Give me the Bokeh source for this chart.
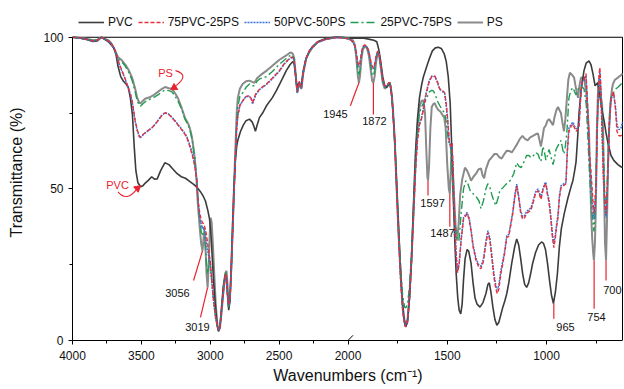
from bokeh.plotting import figure
from bokeh.models import Range1d, FixedTicker, Legend, LegendItem, Label, Arrow
from bokeh.embed import file_html
from bokeh.resources import INLINE

FONT = "Liberation Sans"

# ---------------- data: (wavenumber cm-1, transmittance %) ----------------
pvc = [
    (4000, 100), (3950, 99.8), (3900, 99.3), (3850, 98.6), (3820, 98.8), (3790, 100), (3770, 99.5),
    (3740, 98.5), (3720, 97.5), (3700, 96.5), (3685, 94.5), (3670, 90.5), (3650, 87), (3630, 85.5),
    (3610, 84.5), (3595, 83.5), (3580, 80), (3565, 74.5), (3552, 64), (3540, 56), (3525, 52),
    (3505, 50.7), (3490, 51), (3470, 52), (3450, 52.8), (3425, 54), (3405, 53.2), (3385, 53.3),
    (3360, 56), (3330, 58.6), (3300, 58), (3270, 56.5), (3240, 55), (3210, 54), (3180, 53.5),
    (3150, 52.5), (3120, 51.5), (3095, 50.5), (3070, 49), (3050, 47.5), (3035, 46), (3018, 43),
    (3005, 40), (2995, 35), (2985, 27), (2975, 19), (2962, 11), (2950, 5), (2940, 3), (2930, 4.5),
    (2918, 11), (2905, 18), (2892, 21.5), (2884, 21.5), (2876, 16), (2866, 10), (2857, 13),
    (2848, 24), (2838, 38), (2828, 50), (2818, 59), (2808, 64), (2800, 66), (2780, 69), (2760, 71),
    (2740, 72.5), (2715, 73), (2695, 72), (2682, 70.5), (2672, 69), (2660, 71), (2643, 73.5),
    (2620, 75), (2592, 77.4), (2550, 80), (2520, 82.4), (2480, 86), (2448, 89), (2420, 91),
    (2400, 92), (2390, 91), (2380, 87), (2370, 83), (2362, 84.5), (2355, 85), (2348, 84),
    (2340, 84), (2325, 89), (2305, 93), (2280, 95.5), (2260, 96.8), (2220, 98.5), (2180, 99.3),
    (2140, 99.7), (2100, 100), (2060, 100), (2020, 99.8), (2000, 99.6),
    (1980, 99.7), (1950, 99.8), (1920, 99.7), (1890, 99.3), (1870, 99), (1855, 98.5), (1845, 96),
    (1835, 92), (1825, 87), (1815, 84), (1805, 83.5), (1795, 84.5), (1788, 84.5), (1780, 81),
    (1770, 72), (1760, 60), (1750, 45), (1740, 30), (1730, 17), (1720, 8), (1710, 4.5), (1700, 6),
    (1690, 14), (1680, 27), (1670, 45), (1660, 62), (1650, 73), (1640, 80), (1630, 84), (1620, 87),
    (1605, 90), (1590, 93), (1575, 95.5), (1560, 96.5), (1545, 96.7), (1530, 96.3), (1515, 94.5),
    (1505, 92), (1495, 87), (1485, 78), (1478, 65), (1470, 48), (1462, 33), (1455, 22), (1447, 14),
    (1440, 10), (1432, 8.8), (1425, 12), (1418, 20), (1410, 27), (1400, 30), (1392, 29.5),
    (1380, 25.5), (1370, 19), (1360, 14), (1350, 12), (1335, 11), (1320, 12.5), (1305, 15.5),
    (1295, 18.5), (1288, 19), (1280, 16), (1270, 11), (1260, 7), (1250, 5), (1240, 6), (1230, 8.5),
    (1220, 11), (1210, 13), (1200, 15.5), (1190, 19), (1175, 25.5), (1160, 31), (1150, 33.5),
    (1140, 31.5), (1130, 27), (1120, 22), (1110, 18.5), (1100, 17.5), (1090, 19), (1080, 22),
    (1070, 25.4), (1055, 29), (1040, 31.5), (1025, 32.5), (1015, 32), (1005, 30), (995, 25.5),
    (985, 20), (975, 15), (965, 12.2), (955, 16), (945, 22), (935, 31), (925, 37), (910, 42),
    (892, 47), (875, 51), (867, 52.7), (858, 56), (851, 59), (843, 67), (836, 75), (825, 83),
    (811, 89), (800, 91.5), (786, 92.2), (776, 91), (766, 88), (755, 84), (742, 85), (730, 80),
    (720, 76), (710, 72.5), (700, 68.5), (690, 65), (675, 61), (660, 59.3), (640, 58), (625, 57.3),
    (617, 57),
]

pvc75_ps25 = [
    (4000, 100), (3950, 99.8), (3900, 99.4), (3850, 98.8), (3820, 99), (3790, 100), (3770, 99.5),
    (3740, 98.8), (3720, 98), (3700, 96.5), (3690, 95.5), (3670, 92.5), (3650, 90), (3632, 88),
    (3615, 86), (3596, 83.4), (3580, 81.5), (3567, 79), (3555, 75.5), (3545, 72.5), (3530, 69.5),
    (3515, 67.5), (3509, 67), (3495, 67.7), (3473, 68.5), (3450, 69.3), (3422, 70.2), (3400, 71.3),
    (3379, 72.5), (3355, 74), (3328, 75.1), (3300, 74.5), (3278, 73.5), (3250, 72), (3220, 70.2),
    (3195, 68.8), (3170, 67), (3145, 63.5), (3126, 60.3), (3110, 57), (3097, 52.7), (3090, 47),
    (3080, 43), (3069, 40.5), (3058, 39), (3050, 38.5), (3040, 37.5), (3030, 35.5), (3022, 33),
    (3012, 30), (3000, 26), (2990, 21), (2975, 13), (2962, 8), (2950, 5), (2940, 3.5), (2930, 4.5),
    (2918, 10), (2905, 16), (2892, 21), (2885, 22), (2878, 17), (2868, 12), (2858, 13), (2848, 22),
    (2837, 36), (2826, 50), (2816, 62), (2808, 70), (2800, 74), (2785, 77.5), (2765, 79),
    (2740, 80.5), (2715, 80.7), (2700, 79.5), (2693, 78.4), (2680, 80), (2670, 81.4), (2640, 83),
    (2592, 84.6), (2550, 86.5), (2498, 89), (2460, 91.5), (2426, 93), (2410, 93.5), (2395, 93),
    (2385, 90), (2375, 85), (2368, 82), (2360, 84), (2354, 85.5), (2346, 84), (2338, 83.5),
    (2325, 88.5), (2305, 93), (2280, 95.5), (2260, 96.7), (2220, 98.5), (2160, 99.4), (2100, 99.8),
    (2040, 99.8), (2000, 99.5),
    (1990, 99.3), (1975, 98.5), (1965, 97), (1958, 95), (1950, 91.5), (1945, 90.6), (1940, 91.5),
    (1932, 95), (1925, 97), (1915, 97.5), (1905, 97), (1895, 95.5), (1885, 92), (1878, 90.3),
    (1872, 90), (1866, 91), (1858, 94), (1850, 95.5), (1843, 94.5), (1835, 91), (1825, 86),
    (1815, 84), (1805, 84), (1795, 85), (1789, 85), (1783, 83), (1775, 77), (1765, 66), (1755, 50),
    (1745, 34), (1735, 20), (1725, 10), (1715, 5), (1708, 4.5), (1700, 6.5), (1690, 14), (1680, 26),
    (1670, 41), (1660, 56), (1650, 66), (1640, 71), (1630, 73), (1620, 76), (1610, 80), (1600, 83),
    (1590, 85.5), (1578, 87), (1563, 87.3), (1550, 85.5), (1538, 83), (1525, 82.5), (1513, 81.7),
    (1505, 78), (1498, 73), (1490, 66), (1482, 64), (1476, 65), (1470, 55), (1463, 40), (1455, 28),
    (1448, 22.4), (1440, 25), (1430, 33), (1418, 40), (1400, 41.8), (1390, 40), (1380, 36),
    (1370, 31), (1355, 26.4), (1340, 24), (1330, 23.7), (1318, 26), (1305, 32), (1295, 35.6),
    (1285, 33), (1275, 27), (1265, 21), (1255, 17), (1248, 15.5), (1240, 17), (1230, 22),
    (1220, 25.4), (1210, 29), (1200, 34), (1190, 34.3), (1180, 38), (1170, 41.8), (1158, 48),
    (1150, 51), (1140, 47), (1130, 42), (1120, 40), (1110, 40.5), (1100, 42), (1088, 42.5),
    (1078, 43), (1065, 46), (1055, 48.5), (1043, 49.4), (1035, 48), (1028, 46.5), (1018, 49.5),
    (1010, 51), (1003, 51.7), (995, 48), (987, 45.5), (978, 40), (970, 34), (963, 30.6), (955, 34),
    (948, 38), (942, 40.5), (935, 47), (927, 50.4), (915, 51), (902, 51.7), (895, 62), (887, 69),
    (877, 70.5), (867, 71.4), (858, 70), (851, 69), (843, 69.5), (836, 70), (828, 80), (820, 85.7),
    (811, 86), (801, 88), (796, 82), (791, 75), (784, 62), (776, 56), (768, 48), (761, 41.8),
    (756, 45), (750, 52), (745, 68), (740, 80), (735, 88), (731, 90), (727, 85), (720, 70),
    (713, 55), (706, 45), (700, 41.8), (696, 45), (690, 57), (683, 72), (675, 80), (662, 82),
    (652, 76), (645, 69), (635, 67.5), (625, 67.5), (617, 68),
]

pvc50_ps50 = [
    (4000, 100), (3950, 99.7), (3900, 99.3), (3850, 98.7), (3820, 98.9), (3790, 99.9), (3770, 99.4),
    (3740, 98.7), (3720, 97.8), (3700, 96.3), (3690, 95.2), (3670, 92.3), (3650, 89.8), (3632, 87.8),
    (3615, 85.8), (3596, 83.2), (3580, 81.2), (3567, 78.7), (3555, 75.2), (3545, 72.2), (3530, 69.2),
    (3515, 67.2), (3509, 66.8), (3495, 67.5), (3473, 68.4), (3450, 69.2), (3422, 70.2), (3400, 71.3),
    (3379, 72.6), (3355, 74.1), (3328, 75.2), (3300, 74.6), (3278, 73.6), (3250, 72.2), (3220, 70.4),
    (3195, 69), (3170, 67.3), (3145, 64), (3126, 61), (3110, 57.5), (3097, 53), (3090, 46.5),
    (3080, 42), (3069, 39), (3058, 37), (3050, 37.5), (3040, 36), (3030, 33), (3022, 30.5),
    (3012, 28), (3000, 24.5), (2990, 20), (2975, 12.5), (2962, 7.5), (2950, 4.8), (2940, 3.4),
    (2930, 4.3), (2918, 9.5), (2905, 15.5), (2892, 20.5), (2885, 21.5), (2878, 16.5), (2868, 11.5),
    (2858, 12.5), (2848, 21.5), (2837, 35.5), (2826, 50), (2816, 62), (2808, 70), (2800, 74),
    (2785, 77.5), (2765, 79), (2740, 80.5), (2715, 80.5), (2700, 79.3), (2693, 78), (2680, 79.6),
    (2670, 81), (2640, 82.8), (2592, 84.4), (2550, 86.3), (2498, 88.8), (2460, 91.3), (2426, 92.8),
    (2410, 93.3), (2395, 92.8), (2385, 89.8), (2375, 84.8), (2368, 81.6), (2360, 83.8),
    (2354, 85.3), (2346, 83.8), (2338, 83.3), (2325, 88.3), (2305, 92.8), (2280, 95.4),
    (2260, 96.6), (2220, 98.4), (2160, 99.3), (2100, 99.8), (2040, 99.8), (2000, 99.5),
    (1990, 99.2), (1975, 98.3), (1965, 96.8), (1958, 94.5), (1950, 91), (1945, 90.2), (1940, 91),
    (1932, 94.6), (1925, 96.8), (1915, 97.3), (1905, 96.8), (1895, 95.2), (1885, 91.6), (1878, 89.9),
    (1872, 89.6), (1866, 90.6), (1858, 93.7), (1850, 95.3), (1843, 94.3), (1835, 90.8), (1825, 85.8),
    (1815, 83.8), (1805, 83.8), (1795, 84.8), (1789, 84.8), (1783, 82.8), (1775, 76.8), (1765, 65.8),
    (1755, 50), (1745, 34), (1735, 20.5), (1725, 10.5), (1715, 5.5), (1708, 5), (1700, 7),
    (1690, 14.5), (1680, 26.5), (1670, 41.5), (1660, 56.5), (1650, 66.5), (1640, 71.5), (1630, 73.5),
    (1620, 76.5), (1610, 80.5), (1600, 83.5), (1590, 85.8), (1578, 87.2), (1563, 87), (1550, 85.2),
    (1538, 82.8), (1525, 82.2), (1513, 81.4), (1505, 77.5), (1498, 72.5), (1490, 65.5),
    (1482, 63.5), (1476, 64), (1470, 54), (1463, 39.5), (1455, 28), (1448, 23), (1440, 25.5),
    (1430, 33.5), (1418, 40.5), (1400, 42.2), (1390, 40.5), (1380, 36.5), (1370, 31.5),
    (1355, 27), (1340, 24.8), (1330, 24.5), (1318, 26.8), (1305, 32.8), (1295, 36.2), (1285, 33.6),
    (1275, 27.8), (1265, 22), (1255, 18), (1248, 16.8), (1240, 18.2), (1230, 23), (1220, 26.2),
    (1210, 29.8), (1200, 34.6), (1190, 35), (1180, 38.6), (1170, 42.4), (1158, 48.6), (1150, 51.6),
    (1140, 47.6), (1130, 42.8), (1120, 40.8), (1110, 41.2), (1100, 42.6), (1088, 43.2),
    (1078, 43.8), (1065, 46.6), (1055, 49), (1043, 50), (1035, 48.6), (1028, 47.2), (1018, 50),
    (1010, 51.6), (1003, 52.2), (995, 48.6), (987, 46.2), (978, 40.8), (970, 35), (963, 31.8),
    (955, 35), (948, 39), (942, 41.4), (935, 47.8), (927, 51), (915, 51.6), (902, 52.2), (895, 63),
    (887, 70), (877, 71.2), (867, 72), (858, 70.6), (851, 69.8), (843, 70.2), (836, 71), (828, 80.5),
    (820, 85.4), (811, 85.6), (801, 87.2), (796, 81), (791, 73.5), (784, 60), (776, 53), (768, 45),
    (761, 40), (756, 43.5), (750, 51), (745, 67), (740, 79), (735, 86.5), (731, 88.5), (727, 84),
    (720, 68.5), (713, 53.5), (706, 44), (700, 40.5), (696, 44), (690, 56), (683, 71), (675, 79.5),
    (662, 81.5), (652, 77), (645, 71), (635, 69.5), (625, 70), (617, 72),
]

pvc25_ps75 = [
    (4000, 100), (3950, 99.8), (3900, 99.4), (3850, 98.9), (3820, 99.1), (3790, 100), (3770, 99.5),
    (3740, 98.9), (3720, 98), (3700, 96.3), (3690, 95.3), (3670, 93), (3640, 91.8), (3617, 90.5),
    (3590, 88.3), (3567, 85.8), (3545, 82), (3530, 79), (3515, 77.5), (3505, 77.3), (3490, 78),
    (3473, 78.7), (3440, 79.5), (3415, 80), (3380, 81), (3350, 82), (3328, 82.6), (3300, 82.4),
    (3278, 82), (3255, 80.5), (3235, 79), (3210, 76.5), (3184, 73), (3160, 71), (3148, 69.5),
    (3135, 67), (3126, 64.5), (3112, 60), (3100, 54), (3090, 47), (3076, 40), (3066, 36),
    (3058, 34.5), (3050, 36), (3045, 37), (3038, 33), (3030, 27), (3022, 22), (3016, 23),
    (3008, 27), (3000, 26), (2990, 20), (2975, 13), (2962, 8), (2950, 5), (2940, 3.5), (2930, 4.5),
    (2918, 10), (2905, 17), (2892, 22), (2885, 22.5), (2878, 17.5), (2868, 11), (2858, 12.5),
    (2848, 22), (2837, 36), (2826, 52), (2816, 63), (2808, 72), (2800, 77), (2785, 80.5),
    (2765, 81.6), (2740, 83.5), (2715, 84.6), (2695, 84), (2679, 84), (2660, 85.5), (2640, 86.3),
    (2592, 87), (2549, 88.7), (2500, 91), (2448, 93), (2420, 94), (2405, 94.2), (2392, 93),
    (2382, 88.5), (2368, 82), (2360, 84), (2354, 85.2), (2346, 83.8), (2338, 83.2), (2325, 88.3),
    (2303, 93), (2280, 95.3), (2260, 96.6), (2220, 98.4), (2159, 99.4), (2087, 99.9), (2040, 99.9),
    (2000, 99.6),
    (1990, 99.4), (1975, 98.6), (1965, 97.2), (1958, 94), (1950, 89), (1945, 87.3), (1940, 89),
    (1932, 94), (1925, 96.5), (1915, 97.2), (1905, 96.8), (1895, 95), (1885, 90.5), (1878, 87.6),
    (1872, 87.3), (1866, 89), (1858, 93), (1850, 95.3), (1843, 94.2), (1835, 90.5), (1825, 85.5),
    (1815, 83.5), (1805, 83.8), (1795, 84.8), (1789, 85), (1783, 83), (1775, 77.5), (1765, 66.5),
    (1755, 51), (1745, 36), (1735, 24), (1725, 15), (1715, 11), (1708, 10.8), (1700, 12),
    (1690, 18), (1680, 29), (1670, 43), (1660, 58), (1650, 69), (1640, 75), (1630, 77),
    (1620, 78.2), (1610, 79), (1600, 80.5), (1590, 82), (1578, 82.5), (1570, 82.3), (1560, 81),
    (1550, 79), (1538, 77.5), (1525, 76), (1513, 75), (1505, 72), (1498, 68), (1493, 65.5),
    (1487, 65), (1482, 63), (1476, 56), (1470, 48), (1460, 38), (1450, 33), (1441, 33),
    (1430, 42), (1418, 50), (1406, 52.7), (1395, 51.5), (1385, 49.5), (1370, 48.4), (1355, 47.5),
    (1340, 46), (1330, 43.5), (1318, 46), (1305, 50), (1296, 51.7), (1285, 50.5), (1275, 48),
    (1265, 46), (1255, 44.5), (1244, 47), (1235, 49.5), (1219, 50.4), (1205, 51.5), (1194, 52),
    (1180, 53), (1165, 55), (1150, 58.6), (1139, 57.5), (1128, 57), (1113, 59), (1100, 61),
    (1088, 61), (1078, 60.3), (1065, 61), (1055, 62), (1043, 61.5), (1035, 60), (1028, 59),
    (1018, 64), (1010, 62), (1003, 59.5), (995, 61), (987, 63), (977, 60.5), (967, 58), (960, 60),
    (952, 63), (940, 64.5), (927, 66), (918, 63), (912, 61.5), (905, 64), (897, 69), (887, 80),
    (877, 82.5), (867, 83.4), (858, 82), (851, 81), (840, 83), (826, 84), (811, 83), (800, 78),
    (792, 68), (784, 56), (776, 47), (768, 40), (761, 36), (755, 42), (750, 55), (745, 70),
    (741, 78), (736, 83.4), (731, 82), (725, 78), (720, 75), (713, 62), (706, 48), (700, 41.8),
    (695, 50), (688, 65), (682, 75), (675, 80), (660, 82), (650, 83), (640, 83.5), (625, 84.5),
    (617, 85),
]

ps = [
    (4000, 100), (3950, 99.8), (3900, 99.5), (3850, 99), (3820, 99.2), (3790, 100), (3770, 99.5),
    (3740, 99), (3720, 98.2), (3700, 96.5), (3690, 95.5), (3670, 93.5), (3640, 92.3), (3617, 91),
    (3590, 89), (3567, 86.6), (3545, 83), (3530, 80), (3515, 78.4), (3505, 78.2), (3490, 79),
    (3473, 79.7), (3440, 80.2), (3415, 80.8), (3380, 82), (3350, 83), (3328, 83.6), (3300, 83.2),
    (3278, 83), (3255, 81.5), (3235, 80), (3210, 77), (3184, 73.5), (3160, 71.5), (3148, 70),
    (3135, 67.5), (3126, 65), (3112, 60), (3100, 53), (3090, 45), (3076, 37), (3066, 32),
    (3056, 29.6), (3048, 34), (3042, 36), (3035, 31), (3027, 22), (3019, 17.5), (3012, 24),
    (3004, 35), (2997, 40.5), (2990, 39), (2980, 31), (2970, 21), (2960, 12), (2950, 6),
    (2940, 3.3), (2930, 4), (2918, 9), (2905, 16), (2892, 22), (2882, 23), (2874, 18), (2866, 12),
    (2858, 13), (2848, 23), (2837, 37), (2826, 53), (2816, 65), (2808, 75), (2800, 80), (2785, 83),
    (2765, 84.6), (2740, 85.5), (2715, 85.7), (2695, 85.3), (2679, 85), (2660, 86.5), (2640, 87.3),
    (2621, 88), (2590, 89), (2549, 90.6), (2500, 92.5), (2448, 94), (2425, 94.8), (2412, 95),
    (2400, 94.5), (2390, 93), (2380, 88), (2368, 81.7), (2360, 84), (2354, 85), (2346, 83.5),
    (2338, 83), (2325, 88), (2303, 93), (2280, 95.2), (2260, 96.5), (2220, 98.3), (2159, 99.4),
    (2087, 100), (2040, 100), (2000, 99.7),
    (1990, 99.5), (1975, 99), (1965, 97.5), (1958, 93), (1950, 87), (1945, 85), (1940, 87),
    (1932, 93), (1925, 96), (1915, 97), (1905, 96.5), (1895, 94), (1885, 89), (1878, 85.5),
    (1872, 85), (1866, 87), (1858, 92), (1850, 95), (1843, 94), (1835, 90), (1825, 85), (1815, 83),
    (1805, 83.5), (1795, 84.7), (1789, 85), (1783, 83), (1775, 78), (1765, 67), (1755, 50),
    (1745, 35), (1735, 22), (1725, 12), (1715, 6.5), (1708, 5), (1700, 7), (1690, 15), (1680, 27),
    (1670, 42), (1660, 58), (1650, 70), (1640, 77), (1630, 79), (1620, 79.2), (1612, 75),
    (1605, 62), (1600, 54), (1597, 52.7), (1592, 57), (1585, 70), (1578, 77), (1570, 78),
    (1563, 78.3), (1555, 77), (1545, 76), (1535, 75.5), (1525, 74.5), (1515, 73.5), (1508, 70),
    (1500, 58), (1492, 50), (1487, 48.4), (1482, 56), (1478, 65), (1473, 58), (1466, 48),
    (1458, 38), (1450, 33), (1443, 38), (1435, 48), (1425, 53), (1411, 57), (1400, 56),
    (1390, 54.5), (1380, 52.7), (1368, 54), (1355, 55), (1342, 56.5), (1330, 56.7), (1322, 54.5),
    (1314, 53.5), (1305, 56.5), (1290, 59.3), (1275, 60.5), (1262, 61.5), (1250, 61.5),
    (1238, 60.5), (1226, 60), (1212, 61.5), (1200, 62.6), (1188, 62.5), (1175, 62), (1160, 63.5),
    (1146, 65), (1134, 66.5), (1121, 67.5), (1108, 66.5), (1095, 66), (1082, 67), (1068, 67.5),
    (1055, 68), (1043, 68.3), (1035, 66), (1028, 64), (1020, 67), (1013, 70), (1003, 71),
    (995, 72.5), (987, 73), (977, 72), (967, 71), (960, 73.5), (950, 76), (942, 77), (935, 76),
    (927, 75), (920, 72), (912, 69), (905, 73), (897, 80), (890, 86), (882, 88.3), (870, 87.5),
    (861, 86.7), (851, 83), (841, 80), (834, 84), (826, 86.7), (811, 86.5), (800, 82), (791, 74),
    (786, 69), (780, 55), (775, 42), (770, 34), (765, 29), (761, 26.4), (756, 32), (751, 45),
    (746, 70), (741, 81), (736, 86), (731, 85), (725, 80), (720, 78), (715, 70), (710, 50),
    (705, 32), (700, 26.4), (695, 40), (690, 58), (685, 69), (678, 78), (670, 83), (665, 84.6),
    (655, 86), (640, 86.7), (625, 87.5), (617, 88),
]

series_labels = ["PVC", "75PVC-25PS", "50PVC-50PS", "25PVC-75PS", "PS"]

# peak annotations: label text, marker line ends (wavenumber, %T), text position
peak_texts = ["3056", "3019", "1945", "1872", "1597", "1487", "965", "754", "700"]
peak_line_x0 = [3121, 3071, 1988, 1872, 1597, 1487, 963, 760, 700]
peak_line_y0 = [19.8, 7.6, 77.4, 74.5, 47.8, 37.5, 7.2, 10.5, 19.8]
peak_line_x1 = [3056, 3019, 1945, 1872, 1597, 1487, 963, 760, 700]
peak_line_y1 = [29.6, 17.5, 85.0, 85.0, 52.7, 48.4, 12.2, 26.4, 26.4]
peak_text_x = [3238, 3093, 2091, 1867, 1574, 1524, 904, 748, 668]
peak_text_y = [15.5, 4.3, 74.8, 72.5, 45.5, 35.5, 4.3, 7.6, 16.5]

# ---------------- broken wavenumber axis ----------------
K = 0.694  # compression of the 4000-2000 segment relative to 2000-612


def to_u(w):
    if w >= 2000:
        return round((4000 - w) * K, 6)
    return round(2000 * K + (2000 - w), 6)


X_END_WN = 612       # wavenumber at the right edge of the frame
BORDER_WN = 617      # right border line of the plot box
Y_TOP = 110.8        # headroom above 100 % that holds the legend row

p = figure(width=624, height=389, output_backend="svg", toolbar_location=None,
           x_range=Range1d(to_u(4000), to_u(X_END_WN)), y_range=Range1d(0, Y_TOP),
           min_border_left=72, min_border_right=1, min_border_top=4, min_border_bottom=49)
p.grid.visible = False
p.outline_line_color = None
p.background_fill_color = "white"
p.border_fill_color = "white"

major_wn = [4000, 3500, 3000, 2500, 2000, 1500, 1000]
minor_wn = [3750, 3250, 2750, 2250, 1750, 1250, 750]
p.xaxis.ticker = FixedTicker(ticks=[to_u(w) for w in major_wn],
                             minor_ticks=[to_u(w) for w in minor_wn])
p.xaxis.major_label_overrides = {to_u(w): str(w) for w in major_wn}
p.xaxis.bounds = (to_u(4000), to_u(BORDER_WN))
p.yaxis.ticker = FixedTicker(ticks=[0, 50, 100], minor_ticks=[25, 75])
p.yaxis.bounds = (0, 100)

for ax in (p.xaxis[0], p.yaxis[0]):
    ax.axis_line_color = "#000000"
    ax.major_tick_line_color = "#000000"
    ax.minor_tick_line_color = "#000000"
    ax.major_tick_in = 0
    ax.major_tick_out = 4
    ax.minor_tick_in = 0
    ax.minor_tick_out = 3
    ax.major_label_text_font = FONT
    ax.major_label_text_font_size = "12px"
    ax.major_label_text_color = "#111111"
    ax.axis_label_text_font = FONT
    ax.axis_label_text_font_style = "normal"
    ax.axis_label_text_color = "#111111"

p.xaxis.major_label_standoff = 6
p.yaxis.major_label_standoff = 5
p.xaxis.axis_label = "Wavenumbers (cm\u207b\u00b9)"
p.xaxis.axis_label_text_font_size = "16px"
p.xaxis.axis_label_standoff = 4
p.yaxis.axis_label = "Transmittance (%)"
p.yaxis.axis_label_text_font_size = "16px"
p.yaxis.axis_label_standoff = 15

# top and right sides of the plot box
p.segment(x0=[to_u(4000), to_u(BORDER_WN)], y0=[100, 0],
          x1=[to_u(BORDER_WN), to_u(BORDER_WN)], y1=[100, 100],
          line_color="#000000", line_width=1)


def xy(pairs):
    return [to_u(w) for w, _ in pairs], [t for _, t in pairs]


styles = {
    "PVC": dict(line_color="#3c3c3c", line_width=1.6),
    "75PVC-25PS": dict(line_color="#e5303d", line_width=1.4, line_dash="4 2"),
    "50PVC-50PS": dict(line_color="#3a6fd6", line_width=1.5, line_dash="2 1"),
    "25PVC-75PS": dict(line_color="#1f9c4f", line_width=1.4, line_dash="8 3 2 3"),
    "PS": dict(line_color="#8a8a8a", line_width=2.0),
}
data = {"PVC": pvc, "75PVC-25PS": pvc75_ps25, "50PVC-50PS": pvc50_ps50,
        "25PVC-75PS": pvc25_ps75, "PS": ps}

renderers = {}
for name in ["PS", "PVC", "25PVC-75PS", "50PVC-50PS", "75PVC-25PS"]:
    xs, ys = xy(data[name])
    renderers[name] = p.line(xs, ys, **styles[name])

legend = Legend(items=[LegendItem(label=n, renderers=[renderers[n]]) for n in series_labels],
                orientation="horizontal", location=(6, 311), glyph_width=26, glyph_height=14,
                label_height=14, label_standoff=4, spacing=5, padding=0, margin=0,
                border_line_color=None, background_fill_alpha=0,
                label_text_font=FONT, label_text_font_size="12px", label_text_color="#111111")
p.add_layout(legend)

RED = "#e8232f"
# peak marker lines and texts
p.segment(x0=[to_u(w) for w in peak_line_x0], y0=peak_line_y0,
          x1=[to_u(w) for w in peak_line_x1], y1=peak_line_y1,
          line_color=RED, line_width=1.2)
for t, wx, ty in zip(peak_texts, peak_text_x, peak_text_y):
    p.add_layout(Label(x=to_u(wx), y=ty, text=t, text_align="center", text_baseline="middle",
                       text_font=FONT, text_font_size="11px", text_color="#111111"))

# "PS" and "PVC" callouts with curved arrows
p.add_layout(Label(x=to_u(3325), y=88.3, text="PS", text_align="center", text_baseline="middle",
                   text_font=FONT, text_font_size="11px", text_color=RED))
p.add_layout(Label(x=to_u(3673), y=51.4, text="PVC", text_align="center", text_baseline="middle",
                   text_font=FONT, text_font_size="11px", text_color=RED))
p.quadratic(x0=[to_u(3252), to_u(3670)], y0=[89.0, 49.0],
            x1=[to_u(3262), to_u(3532)], y1=[83.6, 50.0],
            cx=[to_u(3140), to_u(3605)], cy=[87.5, 45.5],
            line_color=RED, line_width=1.1)
p.scatter(x=[to_u(3262), to_u(3528)], y=[83.4, 50.2], marker="triangle", size=7,
          angle=[2.13, -0.87], fill_color=RED, line_color=RED)

# axis break mark at 2000
p.add_layout(Arrow(end=None, x_start=to_u(2000) - 25, y_start=-1.7,
                   x_end=to_u(2000) + 25, y_end=1.7, line_color="#000000", line_width=1))

open("out.html", "w").write(file_html(p, INLINE))
